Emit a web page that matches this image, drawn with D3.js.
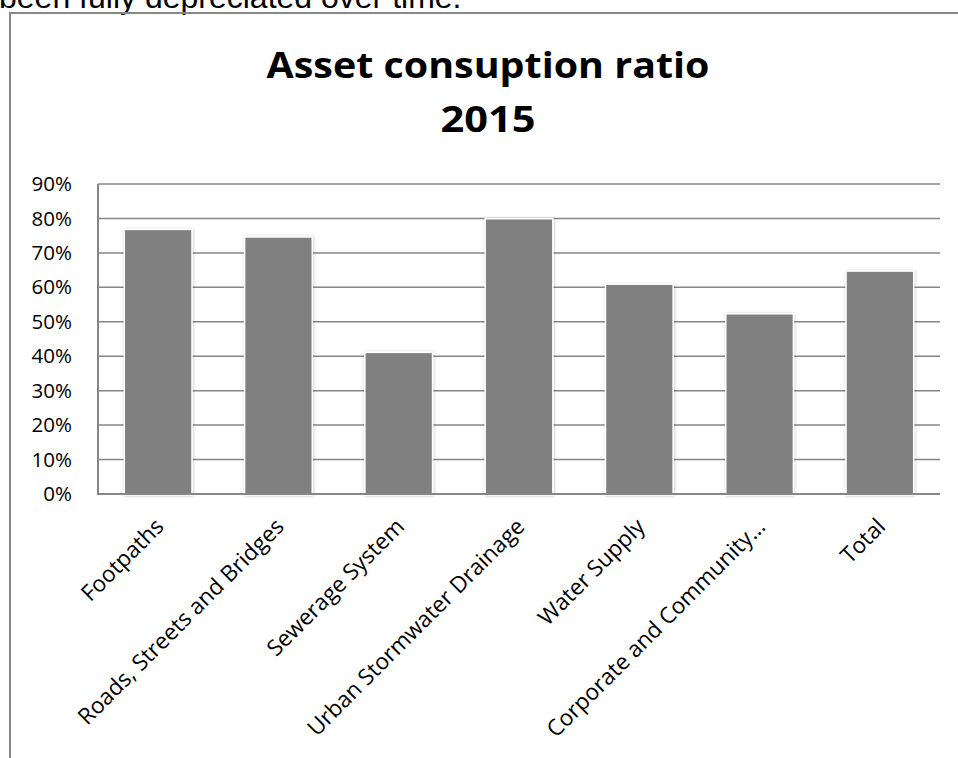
<!DOCTYPE html>
<html>
<head>
<meta charset="utf-8">
<script src="https://cdn.jsdelivr.net/npm/d3@7"></script>
<style>
  body { margin: 0; background: #fff; }
  svg { display: block; }
</style>
</head>
<body>
<div id="chart"></div>
<script>
// data
let categories = ["Footpaths", "Roads, Streets and Bridges", "Sewerage System",
    "Urban Stormwater Drainage", "Water Supply", "Corporate and Community\u2026", "Total"];
let values = [0.766, 0.744, 0.409, 0.797, 0.607, 0.521, 0.645];
let yTicks = [0, 0.1, 0.2, 0.3, 0.4, 0.5, 0.6, 0.7, 0.8, 0.9];
let titleLines = ["Asset consuption ratio", "2015"];
let pageText = "been fully depreciated over time.";

function drawChart() {
    let win_width = 958, win_height = 758;
    let margin = {top: 184, right: 18, bottom: 264, left: 98};
    let width = win_width - margin.left - margin.right;
    let height = win_height - margin.top - margin.bottom;

    let svg = d3.select("#chart")
        .append("svg")
        .attr("width", win_width)
        .attr("height", win_height);

    // soft shadow round the bars
    let defs = svg.append("defs");
    let f = defs.append("filter").attr("id", "glow")
        .attr("x", "-20%").attr("y", "-20%").attr("width", "140%").attr("height", "140%");
    f.append("feDropShadow").attr("dx", 0.5).attr("dy", 0.5).attr("stdDeviation", 1.6)
        .attr("flood-color", "#000").attr("flood-opacity", 0.25);

    // surrounding document text (cut off at the top)
    svg.append("text")
        .attr("x", -1).attr("y", 8)
        .style("font-family", "'Liberation Sans', Arial, sans-serif")
        .style("font-size", "32px")
        .attr("fill", "#000")
        .text(pageText);

    // chart frame, running off the right and bottom
    svg.append("path")
        .attr("d", "M10," + win_height + "V13H" + (win_width + 5))
        .attr("fill", "none")
        .attr("stroke", "#878787")
        .attr("stroke-width", 2);

    // title
    let titleWidths = [443, 95];
    svg.append("g")
        .selectAll("text")
        .data(titleLines)
        .join("text")
        .attr("text-anchor", "middle")
        .attr("x", 488)
        .attr("y", function(d, i) { return 78 + i * 53.5; })
        .attr("textLength", function(d, i) { return titleWidths[i]; })
        .attr("lengthAdjust", "spacingAndGlyphs")
        .style("font-family", "'Open Sans', sans-serif")
        .style("font-weight", "bold")
        .style("font-size", "36px")
        .attr("fill", "#000")
        .text(function(d) { return d; });

    let g = svg.append("g")
        .attr("transform", "translate(" + margin.left + "," + margin.top + ")");

    let x = d3.scaleBand().domain(categories).range([0, width]).paddingInner(0.45).paddingOuter(0.225);
    let y = d3.scaleLinear().domain([0, 0.9]).range([height, 0]);

    // gridlines
    g.append("g")
        .selectAll("line")
        .data(yTicks)
        .join("line")
        .attr("x1", 0).attr("x2", width)
        .attr("y1", function(d) { return y(d); })
        .attr("y2", function(d) { return y(d); })
        .attr("stroke", "#868686")
        .attr("stroke-width", 1.5);

    // bars
    g.append("g")
        .selectAll("rect")
        .data(values)
        .join("rect")
        .attr("x", function(d, i) { return x(categories[i]); })
        .attr("y", function(d) { return y(d); })
        .attr("width", x.bandwidth())
        .attr("height", function(d) { return height - y(d); })
        .attr("fill", "#808080")
        .attr("stroke", "#fff")
        .attr("stroke-width", 3)
        .style("paint-order", "stroke")
        .attr("filter", "url(#glow)");

    // axis lines
    g.append("path")
        .attr("d", "M0,0V" + height + "H" + width)
        .attr("fill", "none")
        .attr("stroke", "#868686")
        .attr("stroke-width", 2);

    // y axis labels
    let yAxis = g.append("g")
        .call(d3.axisLeft(y).tickValues(yTicks).tickFormat(d3.format(".0%")).tickSize(0).tickPadding(26));
    yAxis.select(".domain").remove();
    yAxis.selectAll("text")
        .style("font-family", "'Open Sans', sans-serif")
        .style("font-size", "20.5px")
        .attr("fill", "#000");

    // x axis labels, rotated
    g.append("g")
        .selectAll("text")
        .data(categories)
        .join("text")
        .attr("transform", function(d) {
            return "translate(" + (x(d) + x.bandwidth() / 2 + 7) + "," + (height + 34) + ") rotate(-45)";
        })
        .attr("text-anchor", "end")
        .style("font-family", "'Open Sans', sans-serif")
        .style("font-size", "22.5px")
        .attr("fill", "#000")
        .text(function(d) { return d; });
}

drawChart();
</script>
</body>
</html>
